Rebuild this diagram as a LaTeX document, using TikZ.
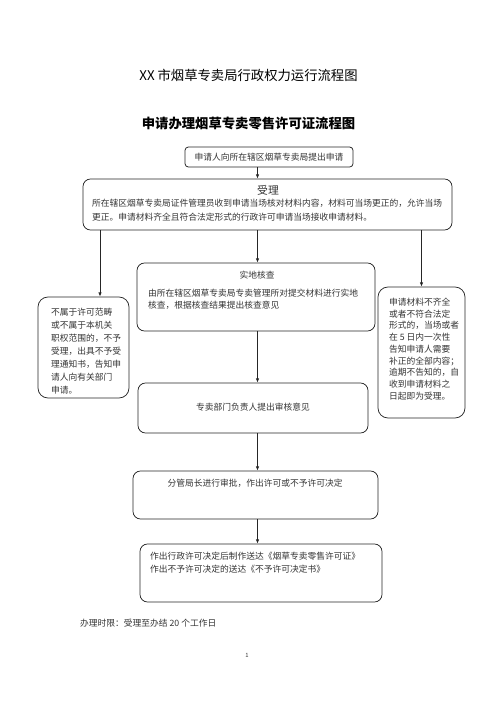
\documentclass[tikz,border=0pt]{standalone}
\usepackage{fontspec}
\setmainfont{Noto Sans CJK SC}
\usetikzlibrary{arrows.meta,fit}
\tikzset{
  frm/.style={draw=black!85, line width=0.9pt, rounded corners=9pt, inner sep=0pt},
  body/.style={font=\fontsize{10.5}{16.8}\selectfont, text=black!80, inner sep=0pt},
  arr/.style={-{Latex[length=5pt,width=4pt]}, line width=0.9pt, black!85},
}

\begin{document}
\begin{tikzpicture}[x=1.2pt,y=-1.2pt]
\useasboundingbox (0,0) rectangle (496,702);
% titles
\node[font=\fontsize{16}{19}\selectfont] (title) at (248.5,75) {XX 市烟草专卖局行政权力运行流程图};
\node[font=\fontsize{16}{19}\selectfont\bfseries] (subtitle) at (248.5,123) {申请办理烟草专卖零售许可证流程图};
% frames
\node[frm, rounded corners=4pt, fit={(185,147) (353,167)}] (apply) {};
\node[frm, fit={(83,179) (452,230)}] (accept) {};
\node[frm, rounded corners=12pt, fit={(38,297) (129,398)}] (reject) {};
\node[frm, fit={(137,263) (375,331)}] (check) {};
\node[frm, rounded corners=12pt, fit={(378,287) (465,418)}] (supp) {};
\node[frm, fit={(138,383) (368,433)}] (review) {};
\node[frm, fit={(133,471) (378,519)}] (approve) {};
\node[frm, fit={(140,544) (382,602)}] (issue) {};
% texts
\node[body] (applyT) at (269,157) {申请人向所在辖区烟草专卖局提出申请};
\node[body, font=\fontsize{13}{15}\selectfont] (acceptH) at (268,190) {受理};
\node[body, align=left, anchor=west] (acceptT) at (92,210) {所在辖区烟草专卖局证件管理员收到申请当场核对材料内容，材料可当场更正的，允许当场\\更正。申请材料齐全且符合法定形式的行政许可申请当场接收申请材料。};
\node[body, align=left, anchor=west, font=\fontsize{10.5}{15.6}\selectfont] (rejectT) at (51,351) {不属于许可范畴\\或不属于本机关\\职权范围的，不予\\受理，出具不予受\\理通知书，告知申\\请人向有关部门\\申请。};
\node[body] (checkH) at (257,275) {实地核查};
\node[body, align=left, anchor=west, font=\fontsize{10.5}{14.4}\selectfont] (checkT) at (148,299) {由所在辖区烟草专卖局专卖管理所对提交材料进行实地\\核查，根据核查结果提出核查意见};
\node[body, align=left, anchor=west, font=\fontsize{10.5}{14.1}\selectfont] (suppT) at (389,349) {申请材料不齐全\\或者不符合法定\\形式的，当场或者\\在 5 日内一次性\\告知申请人需要\\补正的全部内容；\\逾期不告知的，自\\收到申请材料之\\日起即为受理。};
\node[body] (reviewT) at (253,407) {专卖部门负责人提出审核意见};
\node[body] (approveT) at (255,483) {分管局长进行审批，作出许可或不予许可决定};
\node[body, align=left, anchor=west, font=\fontsize{10.5}{15.6}\selectfont] (issueT) at (150,562.5) {作出行政许可决定后制作送达《烟草专卖零售许可证》\\作出不予许可决定的送达《不予许可决定书》};
\node[body, anchor=west] (limit) at (80,623) {办理时限：受理至办结 20 个工作日};
\node[body, font=\fontsize{7}{8}\selectfont] (page) at (247,655) {1};
% connectors
\coordinate (midx) at (257.5,0);
\coordinate (leftx) at (100,0);
\draw[arr] (apply.south -| midx) -- (accept.north -| midx);
\draw[arr] (accept.south -| leftx) -- (reject.north -| leftx);
\draw[arr] (accept.south -| midx) -- (check.north -| midx);
\draw[arr] (accept.south -| supp) -- (supp.north);
\draw[arr] (check.south -| midx) -- (review.north -| midx);
\draw[arr] (review.south -| midx) -- (approve.north -| midx);
\draw[arr] (approve.south -| midx) -- (issue.north -| midx);
\end{tikzpicture}
\end{document}
